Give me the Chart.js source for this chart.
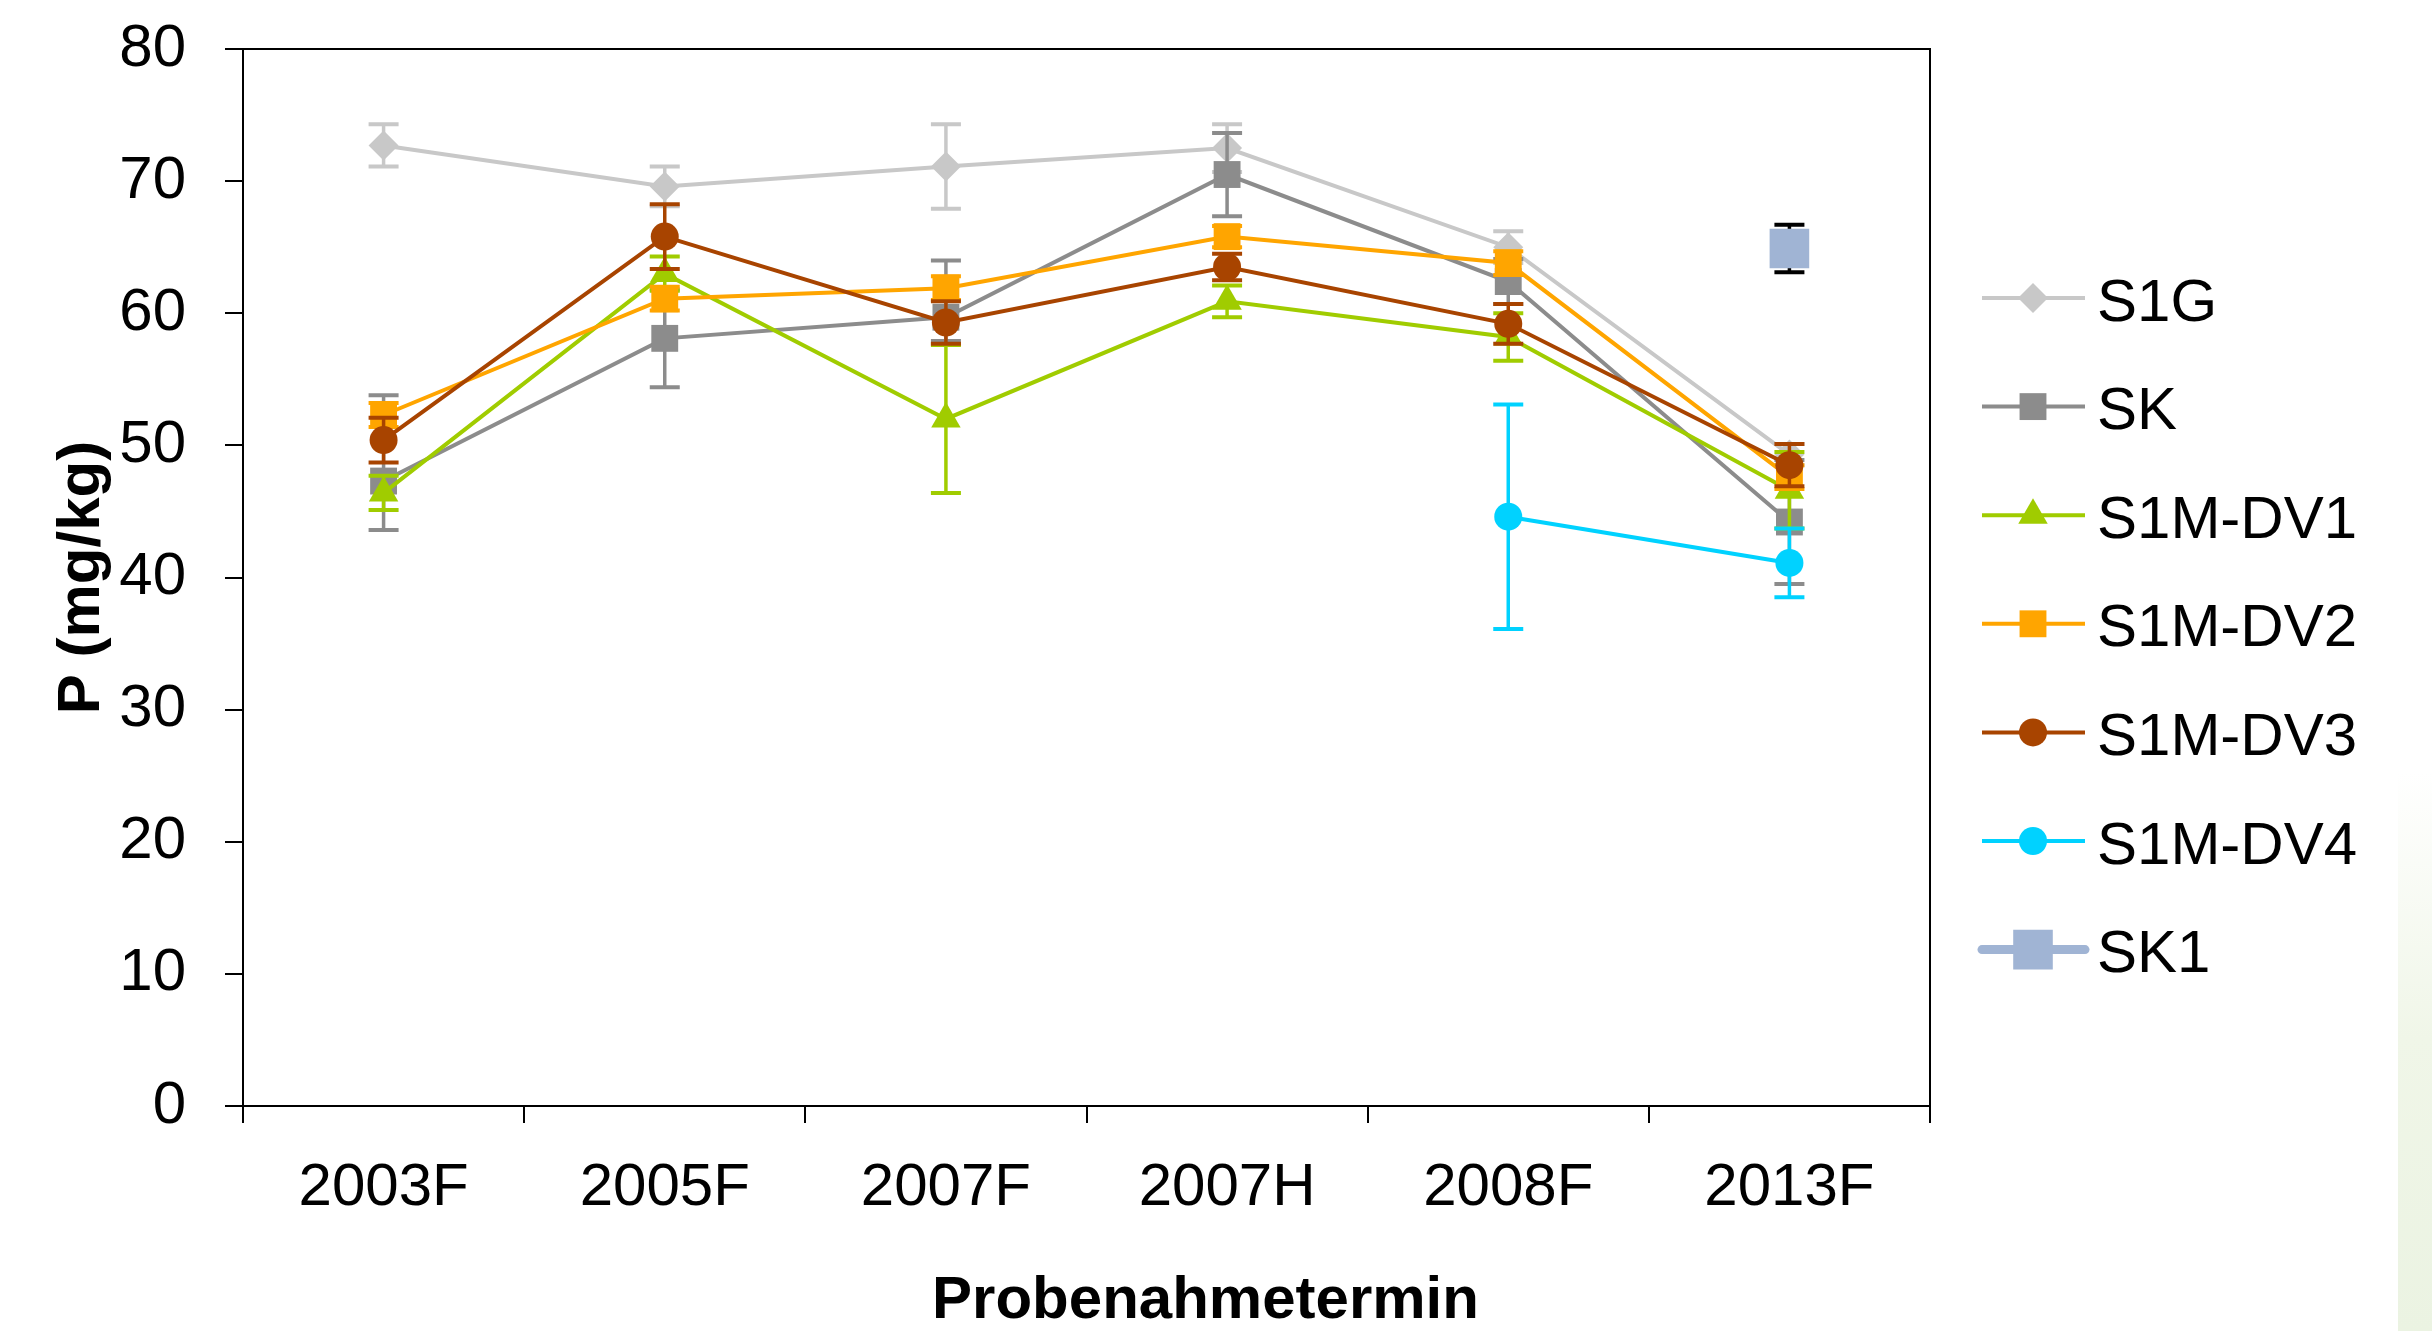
<!DOCTYPE html>
<html><head><meta charset="utf-8">
<script src="https://cdn.jsdelivr.net/npm/chart.js@4/dist/chart.umd.min.js"></script>
<style>
html,body{margin:0;padding:0;background:#fff;overflow:hidden}
#wrap{position:relative;width:2432px;height:1331px}
#edge{position:absolute;left:2398px;top:0;width:34px;height:1331px;background:linear-gradient(to bottom,#ffffff 0%,#ffffff 58%,#f0f6e8 78%,#ebf3e2 100%)}
canvas{position:absolute;left:0;top:0}
</style></head><body>
<div id="wrap"><div id="edge"></div><canvas id="c" width="2432" height="1331"></canvas></div>
<script>
// ---- data ----
const categories = ['2003F', '2005F', '2007F', '2007H', '2008F', '2013F'];
const seriesNames = ['S1G', 'SK', 'S1M-DV1', 'S1M-DV2', 'S1M-DV3', 'S1M-DV4', 'SK1'];

const S1G      = [72.7, 69.6, 71.1, 72.5, 65.0, 49.3];
const SK       = [47.3, 58.1, 59.7, 70.5, 62.4, 44.2];
const S1M_DV1  = [46.4, 63.0, 52.0, 60.9, 58.2, 46.6];
const S1M_DV2  = [52.3, 61.1, 61.9, 65.8, 63.8, 47.6];
const S1M_DV3  = [50.4, 65.8, 59.3, 63.5, 59.2, 48.5];
const S1M_DV4  = [null, null, null, null, 44.6, 41.1];
const SK1      = [null, null, null, null, null, 64.9];

// error bars: number = symmetric, [minus, plus] = asymmetric
const S1G_err     = [1.6, 1.5, 3.2, 1.8, 1.2, 0.8];
const SK_err      = [[3.7, 6.5], 3.7, [1.8, 4.3], 3.15, 1.7, 4.7];
const S1M_DV1_err = [1.3, 1.3, 5.6, 1.2, 1.8, 2.9];
const S1M_DV2_err = [0.9, 0.9, 0.9, 0.8, 0.9, 0.9];
const S1M_DV3_err = [1.7, 2.45, 1.6, 1.0, 1.5, 1.6];
const S1M_DV4_err = [null, null, null, null, 8.5, 2.6];
const SK1_err     = [null, null, null, null, null, 1.8];

const yTicksMin = 0, yTicksMax = 80, yTicksStep = 10;
const xTitle = 'Probenahmetermin';
const yTitle = 'P (mg/kg)';

// ---- styles ----
const FONT = "'Liberation Sans', Arial, Helvetica, sans-serif";
const styles = [
  {color:'#c8c8c8', style:'rectRot',  r:15},
  {color:'#8c8c8c', style:'rect',     r:19},
  {color:'#a0cc00', style:'triangle', r:17},
  {color:'#ffa500', style:'rect',     r:19},
  {color:'#a84400', style:'circle',   r:14},
  {color:'#00d2ff', style:'circle',   r:14},
  {color:'#a0b4d4', style:'rect',     r:28, lineWidth:9, errColor:'#000'}
];
const values = [S1G, SK, S1M_DV1, S1M_DV2, S1M_DV3, S1M_DV4, SK1];
const errors = [S1G_err, SK_err, S1M_DV1_err, S1M_DV2_err, S1M_DV3_err, S1M_DV4_err, SK1_err];

const datasets = seriesNames.map((name, i) => ({
  label: name,
  data: values[i],
  errors: errors[i],
  errorColor: styles[i].errColor || styles[i].color,
  borderColor: styles[i].color,
  backgroundColor: styles[i].color,
  borderWidth: styles[i].lineWidth || 4,
  legendLineWidth: styles[i].lineWidth || 4,
  borderCapStyle: styles[i].lineWidth ? 'round' : 'butt',
  pointStyle: styles[i].style,
  pointRadius: styles[i].r,
  pointHoverRadius: styles[i].r,
  pointBackgroundColor: styles[i].color,
  pointBorderColor: styles[i].color,
  pointBorderWidth: 0,
  tension: 0,
  spanGaps: false,
  fill: false,
  order: seriesNames.length - i
}));

function fallbackPoint(ctx, style, r, x, y) {
  ctx.beginPath();
  if (style === 'circle') ctx.arc(x, y, r, 0, Math.PI * 2);
  else if (style === 'rect') { const s = r * Math.SQRT1_2; ctx.rect(x - s, y - s, 2 * s, 2 * s); }
  else if (style === 'rectRot') { ctx.moveTo(x, y - r); ctx.lineTo(x + r, y); ctx.lineTo(x, y + r); ctx.lineTo(x - r, y); ctx.closePath(); }
  else if (style === 'triangle') { ctx.moveTo(x, y - r); ctx.lineTo(x + r * 0.866, y + r / 2); ctx.lineTo(x - r * 0.866, y + r / 2); ctx.closePath(); }
  ctx.fill();
}

const errorBarPlugin = {
  id: 'errbars',
  beforeDatasetDraw(chart, args) {
    const ds = chart.data.datasets[args.index];
    if (!ds.errors) return;
    const ys = chart.scales.y, ctx = chart.ctx;
    ctx.save();
    ctx.strokeStyle = ds.errorColor;
    ctx.lineCap = 'butt';
    args.meta.data.forEach((pt, j) => {
      const v = ds.data[j], e = ds.errors[j];
      if (v == null || e == null) return;
      const dn = Array.isArray(e) ? e[0] : e;
      const up = Array.isArray(e) ? e[1] : e;
      const x = pt.x;
      const yT = ys.getPixelForValue(v + up), yB = ys.getPixelForValue(v - dn);
      ctx.lineWidth = 3.5;
      ctx.beginPath(); ctx.moveTo(x, yT); ctx.lineTo(x, yB); ctx.stroke();
      ctx.lineWidth = 4;
      ctx.beginPath();
      ctx.moveTo(x - 15, yT); ctx.lineTo(x + 15, yT);
      ctx.moveTo(x - 15, yB); ctx.lineTo(x + 15, yB);
      ctx.stroke();
    });
    ctx.restore();
  }
};

const framePlugin = {
  id: 'frame',
  beforeDatasetsDraw(chart) {
    const {ctx, chartArea: a} = chart;
    ctx.save();
    ctx.strokeStyle = '#000'; ctx.lineWidth = 2;
    ctx.beginPath();
    ctx.moveTo(a.left, a.top); ctx.lineTo(a.right, a.top); ctx.lineTo(a.right, a.bottom);
    ctx.stroke();
    ctx.restore();
  },
  afterDraw(chart) {
    // x-axis title, centred as in the original figure (slightly right of the plot centre)
    const {ctx, chartArea: a} = chart;
    ctx.save();
    ctx.fillStyle = '#000';
    ctx.font = 'bold 60px ' + FONT;
    ctx.textAlign = 'center';
    ctx.textBaseline = 'alphabetic';
    ctx.fillText(xTitle, (a.left + a.right) / 2 + 119, a.bottom + 212);
    ctx.restore();
  }
};

const sideLegendPlugin = {
  id: 'sideLegend',
  afterDraw(chart) {
    const {ctx, chartArea: a} = chart;
    const x0 = a.right + 52, x1 = a.right + 155, xm = a.right + 103, xt = a.right + 167;
    chart.data.datasets.forEach((ds, i) => {
      const y = a.top + 249 + i * 108.6;
      ctx.save();
      ctx.strokeStyle = ds.borderColor;
      ctx.lineWidth = ds.legendLineWidth;
      ctx.lineCap = ds.borderCapStyle;
      ctx.beginPath(); ctx.moveTo(x0, y); ctx.lineTo(x1, y); ctx.stroke();
      ctx.fillStyle = ds.pointBackgroundColor;
      ctx.strokeStyle = ds.pointBorderColor;
      if (Chart.helpers && Chart.helpers.drawPoint) {
        Chart.helpers.drawPoint(ctx, {pointStyle: ds.pointStyle, radius: ds.pointRadius, borderWidth: 0, rotation: 0}, xm, y);
      } else {
        fallbackPoint(ctx, ds.pointStyle, ds.pointRadius, xm, y);
      }
      ctx.fillStyle = '#000';
      ctx.font = '60px ' + FONT;
      ctx.textAlign = 'left';
      ctx.textBaseline = 'middle';
      ctx.fillText(ds.label, xt, y + 6);
      ctx.restore();
    });
  }
};

new Chart(document.getElementById('c'), {
  type: 'line',
  data: {labels: categories, datasets},
  plugins: [errorBarPlugin, framePlugin, sideLegendPlugin],
  options: {
    responsive: false,
    animation: false,
    events: [],
    layout: {padding: {top: 49, right: 502, left: 0, bottom: 0}},
    plugins: {legend: {display: false}, tooltip: {enabled: false}, title: {display: false}},
    scales: {
      x: {
        type: 'category',
        offset: true,
        grid: {display: true, drawOnChartArea: false, drawTicks: true, tickLength: 17, color: '#000', lineWidth: 2, offset: true},
        border: {display: true, color: '#000', width: 2},
        ticks: {font: {family: FONT, size: 60}, color: '#000', padding: 29, maxRotation: 0, autoSkip: false},
        title: {display: false},
        afterFit(s) { s.height = 225; s.paddingLeft = 0; s.paddingRight = 0; }
      },
      y: {
        min: yTicksMin, max: yTicksMax,
        grid: {display: true, drawOnChartArea: false, drawTicks: true, tickLength: 18, color: '#000', lineWidth: 2},
        border: {display: true, color: '#000', width: 2},
        ticks: {stepSize: yTicksStep, font: {family: FONT, size: 60}, color: '#000', padding: 39},
        title: {display: true, text: yTitle, color: '#000', font: {family: FONT, size: 60, weight: 'bold'}, padding: {top: 46, bottom: 0}},
        afterFit(s) { s.width = 243; s.paddingTop = 0; s.paddingBottom = 0; }
      }
    }
  }
});
</script>
</body></html>
